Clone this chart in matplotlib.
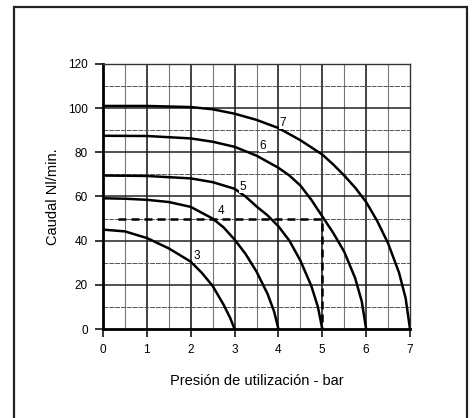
import numpy as np
import matplotlib
matplotlib.use("Agg")
import matplotlib.pyplot as plt
from matplotlib.patches import Rectangle

plt.rcParams['font.family'] = ['Liberation Sans', 'DejaVu Sans']

# curves: flow (Nl/min) vs working pressure (bar), one per supply pressure
x3 = [0, 0.5, 1, 1.5, 2, 2.25, 2.5, 2.75, 2.9, 3]
y3 = [45, 44.2, 41.2, 36.5, 30.5, 25.5, 19.5, 11, 5, 0]

x4 = [0, 0.5, 1, 1.5, 2, 2.5, 2.75, 3, 3.25, 3.5, 3.75, 3.9, 4]
y4 = [59.2, 59, 58.5, 57.5, 55.3, 50, 46, 40.5, 34, 26, 16, 8, 0]

x5 = [0, 1, 2, 2.5, 3, 3.25, 3.5, 3.75, 4, 4.25, 4.5, 4.75, 4.9, 5]
y5 = [69.5, 69.3, 68.2, 66.5, 63.5, 60, 55.5, 51.5, 46.5, 40, 31, 19.5, 10, 0]

x6 = [0, 1, 2, 2.5, 3, 3.5, 4, 4.25, 4.5, 4.75, 5, 5.25, 5.5, 5.75, 5.9, 6]
y6 = [87.5, 87.4, 86.3, 84.8, 82.5, 78.5, 73, 69.5, 65, 58.5, 51, 43.5, 35, 23, 12.5, 0]

x7 = [0, 1, 2, 2.5, 3, 3.5, 4, 4.5, 5, 5.25, 5.5, 5.75, 6, 6.25, 6.5, 6.75, 6.9, 7]
y7 = [101, 101, 100.5, 99.5, 97.5, 94.7, 91, 85.5, 79, 74.5, 69.5, 64, 57.5, 49, 38.8, 25.5, 14, 0]

curves = [(x3, y3, '3'), (x4, y4, '4'), (x5, y5, '5'), (x6, y6, '6'), (x7, y7, '7')]
label_pos = {'3': (2.14, 33), '4': (2.69, 53.5), '5': (3.19, 64.5), '6': (3.64, 83), '7': (4.1, 93.5)}

# operating point
op_x = 5
op_y = 50
op_start = 0.35

x_ticks = [0, 1, 2, 3, 4, 5, 6, 7]
y_ticks = [0, 20, 40, 60, 80, 100, 120]

fig = plt.figure(figsize=(4.74, 4.18), dpi=100)
ax = fig.add_axes([103 / 474, 89 / 418, 307 / 474, 265 / 418])
ax.set_xlim(0, 7)
ax.set_ylim(0, 120)

# grid
for gx in np.arange(0.5, 7, 0.5):
    if gx == int(gx):
        ax.axvline(gx, color='#222222', lw=1.2, zorder=1)
    else:
        ax.axvline(gx, color='#777777', lw=0.8, zorder=1)
for gy in np.arange(10, 120, 10):
    if gy % 20 == 0:
        ax.axhline(gy, color='#222222', lw=1.1, zorder=1)
    else:
        ax.axhline(gy, color='#555555', lw=0.7, ls=(0, (5, 1)), zorder=1)

for xs, ys, name in curves:
    ax.plot(xs, ys, color='black', lw=1.8, zorder=3, solid_joinstyle='round')
    lx, ly = label_pos[name]
    ax.text(lx, ly, name, fontsize=8.5, ha='center', va='center', zorder=4,
            bbox=dict(facecolor='white', edgecolor='none', pad=0.5))

ax.plot([op_start, op_x, op_x], [op_y, op_y, 0], color='black', lw=1.8,
        dashes=(3.2, 2.0), zorder=4)

for s in ['left', 'bottom']:
    ax.spines[s].set_linewidth(2.0)
for s in ['top', 'right']:
    ax.spines[s].set_linewidth(1.0)
    ax.spines[s].set_color('#333333')

ax.set_xticks(x_ticks)
ax.set_yticks(y_ticks)
ax.tick_params(direction='out', length=6, width=1.1, labelsize=8.5, pad=5, color='black')
ax.set_xlabel('Presión de utilización - bar', fontsize=10.5, labelpad=13)
ax.set_ylabel('Caudal Nl/min.', fontsize=10.5, labelpad=6)

# outer frame
fig.patches.append(Rectangle((14 / 474, -0.05), 453 / 474, 1 - 7 / 418 + 0.05,
                             transform=fig.transFigure, fill=False,
                             edgecolor='#222222', lw=1.6))

fig.savefig('out.png', dpi=100)
